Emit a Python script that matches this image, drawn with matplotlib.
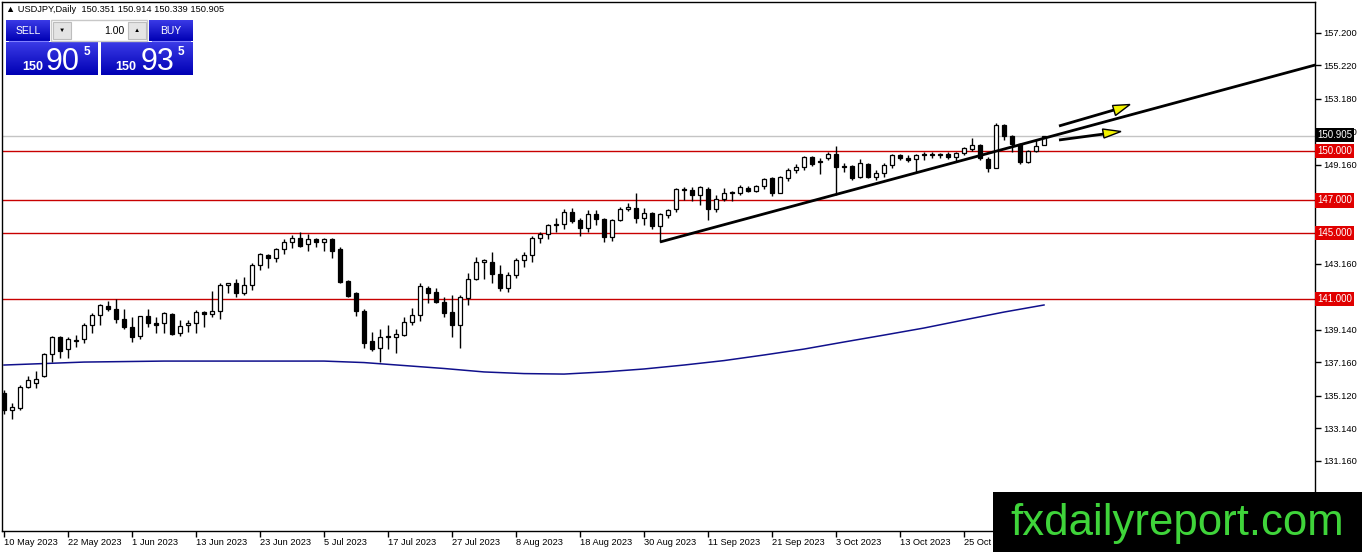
import numpy as np
import matplotlib
matplotlib.use("Agg")
import matplotlib.pyplot as plt
from matplotlib.patches import Rectangle, Polygon
from matplotlib.transforms import blended_transform_factory

plt.rcParams['font.family'] = ['Liberation Sans', 'DejaVu Sans']

# daily USDJPY candles, 10 May 2023 .. 8 Nov 2023
opens = [135.29, 134.24, 134.40, 135.65, 135.90, 136.30, 137.65, 138.70, 137.95, 138.45,
         138.60, 139.45, 140.05, 140.60, 140.40, 139.80, 139.30, 138.75, 139.95, 139.55,
         139.55, 140.10, 138.95, 139.40, 139.55, 140.20, 140.10, 140.25, 141.85, 141.95,
         141.35, 141.85, 143.05, 143.70, 143.50, 144.05, 144.45, 144.70, 144.35, 144.65,
         144.45, 144.65, 144.05, 142.10, 141.35, 140.30, 138.45, 138.00, 138.75, 138.70,
         138.80, 139.60, 140.05, 141.70, 141.40, 140.85, 140.20, 139.45, 141.05, 142.20,
         143.25, 143.25, 142.50, 141.70, 142.45, 143.35, 143.70, 144.70, 144.95, 145.55,
         145.55, 146.30, 145.80, 145.30, 146.15, 145.85, 144.75, 145.80, 146.45, 146.55,
         145.90, 146.25, 145.45, 146.10, 146.45, 147.70, 147.65, 147.30, 147.70, 146.50,
         147.10, 147.50, 147.45, 147.75, 147.55, 147.85, 148.35, 147.45, 148.35, 148.85,
         149.05, 149.65, 149.40, 149.55, 149.80, 149.10, 149.10, 148.40, 149.20, 148.40,
         148.65, 149.15, 149.75, 149.55, 149.50, 149.80, 149.80, 149.80, 149.80, 149.65,
         149.90, 150.10, 150.35, 149.50, 148.95, 151.60, 150.90, 150.45, 149.35, 150.00,
         150.351]
highs = [135.45, 134.67, 135.78, 136.32, 136.60, 137.70, 138.75, 138.75, 138.70, 138.80,
         139.55, 140.15, 140.70, 140.90, 141.00, 140.40, 139.90, 140.00, 140.40, 139.90,
         140.20, 140.15, 139.75, 139.75, 140.35, 140.25, 141.50, 141.95, 142.00, 142.20,
         142.35, 143.20, 143.80, 143.75, 144.10, 144.65, 144.90, 145.10, 144.95, 144.70,
         144.70, 144.70, 144.15, 142.15, 141.40, 140.40, 139.00, 139.20, 139.40, 139.15,
         139.90, 140.45, 141.95, 141.80, 141.70, 141.10, 141.25, 141.25, 142.60, 143.55,
         143.45, 143.85, 143.05, 142.65, 143.50, 143.85, 144.85, 145.05, 145.55, 145.90,
         146.45, 146.55, 145.90, 146.40, 146.40, 145.90, 145.85, 146.60, 146.85, 147.45,
         146.55, 146.30, 146.25, 146.50, 147.75, 147.80, 147.80, 147.85, 147.80, 147.35,
         147.75, 147.60, 147.95, 147.85, 147.95, 148.35, 148.40, 148.50, 148.95, 149.20,
         149.70, 149.70, 149.55, 149.95, 150.30, 149.30, 149.15, 149.50, 149.25, 148.85,
         149.25, 149.80, 149.80, 149.75, 149.80, 149.95, 149.95, 149.90, 149.95, 149.95,
         150.25, 150.80, 150.40, 149.65, 151.70, 151.65, 150.95, 150.50, 150.05, 150.65,
         150.914]
lows = [134.00, 133.69, 134.24, 135.60, 135.60, 136.25, 137.20, 137.40, 137.40, 138.10,
        138.35, 138.95, 139.45, 140.30, 139.55, 139.20, 138.40, 138.60, 139.30, 138.95,
        138.95, 138.80, 138.75, 139.00, 138.95, 139.30, 139.90, 139.80, 141.35, 141.10,
        141.25, 141.55, 142.75, 142.90, 143.25, 143.75, 144.10, 144.15, 143.90, 144.15,
        143.95, 143.50, 142.00, 141.15, 140.00, 138.05, 137.85, 137.20, 137.95, 137.70,
        138.75, 139.45, 139.65, 140.75, 140.75, 139.90, 138.70, 138.05, 140.65, 142.15,
        142.20, 141.95, 141.50, 141.45, 142.30, 142.95, 143.25, 144.40, 144.65, 145.05,
        145.25, 145.60, 144.85, 145.05, 145.50, 144.45, 144.50, 145.75, 146.35, 145.60,
        145.50, 145.25, 144.45, 145.90, 146.30, 147.00, 146.95, 146.70, 145.80, 146.30,
        146.95, 146.95, 147.30, 147.50, 147.50, 147.70, 147.25, 147.45, 148.20, 148.65,
        148.85, 149.10, 148.60, 149.45, 147.35, 148.70, 148.25, 148.35, 148.35, 148.25,
        148.45, 148.95, 149.45, 149.35, 148.70, 149.45, 149.60, 149.60, 149.50, 149.35,
        149.75, 150.00, 149.45, 148.70, 148.95, 150.65, 149.95, 149.20, 149.25, 149.95,
        150.339]
closes = [134.26, 134.42, 135.65, 136.08, 136.15, 137.65, 138.70, 137.85, 138.55, 138.50,
          139.45, 140.05, 140.65, 140.40, 139.80, 139.30, 138.70, 139.95, 139.55, 139.45,
          140.15, 138.90, 139.35, 139.55, 140.20, 140.10, 140.30, 141.85, 141.95, 141.35,
          141.85, 143.05, 143.75, 143.50, 144.05, 144.45, 144.70, 144.20, 144.65, 144.45,
          144.65, 143.95, 142.05, 141.20, 140.25, 138.35, 137.95, 138.70, 138.70, 138.85,
          139.60, 140.05, 141.80, 141.35, 140.80, 140.15, 139.40, 141.10, 142.20, 143.25,
          143.35, 142.50, 141.70, 142.45, 143.35, 143.70, 144.70, 144.95, 145.50, 145.50,
          146.30, 145.75, 145.30, 146.15, 145.85, 144.75, 145.80, 146.45, 146.60, 145.90,
          146.25, 145.45, 146.15, 146.40, 147.70, 147.65, 147.30, 147.80, 146.45, 147.10,
          147.45, 147.45, 147.80, 147.55, 147.85, 148.30, 147.45, 148.40, 148.85, 149.05,
          149.65, 149.20, 149.35, 149.80, 149.05, 149.05, 148.35, 149.25, 148.40, 148.65,
          149.15, 149.75, 149.55, 149.45, 149.75, 149.75, 149.75, 149.75, 149.65, 149.90,
          150.20, 150.35, 149.55, 148.95, 151.60, 150.90, 150.45, 149.35, 150.00, 150.30,
          150.905]

# moving average (blue line), sampled at bar numbers
ma_bars = [0, 10, 20, 30, 40, 45, 50, 55, 60, 65, 70, 75, 80, 85, 90, 95, 100, 105, 110, 115, 120, 125, 130]
ma_values = [136.99, 137.17, 137.23, 137.23, 137.23, 137.14, 136.96, 136.78, 136.57, 136.47, 136.44,
             136.57, 136.75, 136.99, 137.26, 137.60, 137.96, 138.39, 138.81, 139.24, 139.73, 140.21, 140.64]

# support / resistance levels and current price
levels = [150.0, 147.0, 145.0, 141.0]
level_labels = ['150.000', '147.000', '145.000', '141.000']
current_price = 150.905

# trend line (bar, price)
trend_bars = [82, 163.9]
trend_prices = [144.47, 155.23]

date_bars = [0, 8, 16, 24, 32, 40, 48, 56, 64, 72, 80, 88, 96, 104, 112, 120]
date_labels = ['10 May 2023', '22 May 2023', '1 Jun 2023', '13 Jun 2023', '23 Jun 2023',
               '5 Jul 2023', '17 Jul 2023', '27 Jul 2023', '8 Aug 2023', '18 Aug 2023',
               '30 Aug 2023', '11 Sep 2023', '21 Sep 2023', '3 Oct 2023', '13 Oct 2023',
               '25 Oct 2023']
price_ticks = [157.2, 155.22, 153.18, 151.2, 149.16, 147.0, 145.0, 143.16, 141.0,
               139.14, 137.16, 135.12, 133.14, 131.16]

W, H = 1362, 552
fig = plt.figure(figsize=(W / 100, H / 100), dpi=100)
fig.patch.set_facecolor('white')

ax = fig.add_axes([2 / W, (H - 531) / H, (1315 - 2) / W, (531 - 2) / H])
ax.set_xlim(-0.25, 163.875)
ax.set_ylim(126.90, 159.06)

o = np.array(opens)
h = np.array(highs)
l = np.array(lows)
c = np.array(closes)
idx = np.arange(len(o))
up = c >= o
bottoms = np.minimum(o, c)
heights = np.maximum(np.abs(c - o), 0.03)

# levels first, candles on top
for lv in levels:
    ax.axhline(lv, color='#c80000', lw=1, zorder=1)
ax.axhline(current_price, color='#c4c4c4', lw=1, zorder=1)

ax.plot(ma_bars, ma_values, color='#10108c', lw=1.1, zorder=2)

ax.vlines(idx, l, h, color='black', lw=1, zorder=3)
ax.bar(idx[up], heights[up], bottom=bottoms[up], width=0.62, facecolor='white',
       edgecolor='black', lw=0.9, zorder=4)
ax.bar(idx[~up], heights[~up], bottom=bottoms[~up], width=0.62, facecolor='black',
       edgecolor='black', lw=0.9, zorder=4)

ax.plot(trend_bars, trend_prices, color='black', lw=2, zorder=5, solid_capstyle='butt')

# axes look like MT4
for sp in ax.spines.values():
    sp.set_color('black')
    sp.set_linewidth(1)
ax.yaxis.tick_right()
ax.set_yticks(price_ticks)
# the level boxes sit on top of these, so leave their tick text out
ax.set_yticklabels(['' if p in levels else '%.3f' % p for p in price_ticks])
ax.set_xticks(date_bars)
ax.set_xticklabels(date_labels)
for lbl in ax.get_xticklabels():
    lbl.set_ha('left')
ax.tick_params(axis='both', direction='out', length=4, width=1, labelsize=6.7,
               colors='black', pad=2)
ax.tick_params(axis='x', pad=1)

tr = blended_transform_factory(ax.transAxes, ax.transData)
for lv, txt in zip(levels, level_labels):
    ax.text(1.0015, lv, txt, transform=tr, fontsize=7, color='white', va='center', ha='left',
            bbox=dict(boxstyle='square,pad=0.22', facecolor='#e00000', edgecolor='none'),
            zorder=10, clip_on=False)
ax.text(1.0015, current_price + 0.08, '%.3f' % current_price, transform=tr, fontsize=7,
        color='white', va='center', ha='left',
        bbox=dict(boxstyle='square,pad=0.22', facecolor='black', edgecolor='none'),
        zorder=10, clip_on=False)

# overlay in pixel coords for the panel, arrows and watermark
ov = fig.add_axes([0, 0, 1, 1], zorder=20)
ov.set_xlim(0, W)
ov.set_ylim(H, 0)
ov.axis('off')
ov.patch.set_alpha(0)

ov.text(6, 10, '\u25b2 USDJPY,Daily  150.351 150.914 150.339 150.905', fontsize=6.7,
        va='center', ha='left', color='black')

grad = np.linspace(0, 1, 50).reshape(-1, 1)
blue = matplotlib.colors.LinearSegmentedColormap.from_list('mt4', ['#3a3ae6', '#0000b4'])


def blue_box(x0, y0, x1, y1):
    ov.imshow(grad, cmap=blue, extent=[x0, x1, y1, y0], aspect='auto', zorder=21)


blue_box(6, 20, 50, 41)
blue_box(149, 20, 193, 41)
blue_box(6, 42, 98, 75)
blue_box(101, 42, 193, 75)
ov.plot([9, 48], [40.5, 40.5], color='#8080ff', lw=0.8, zorder=22)
ov.plot([152, 190], [40.5, 40.5], color='#8080ff', lw=0.8, zorder=22)
ov.text(28, 30.5, 'SELL', fontsize=7.5, color='white', ha='center', va='center', zorder=23)
ov.text(171, 30.5, 'BUY', fontsize=7.5, color='white', ha='center', va='center', zorder=23)

ov.add_patch(Rectangle((51, 20), 96, 21, facecolor='white', edgecolor='#c8c8c8', lw=1, zorder=21))
ov.add_patch(Rectangle((53, 22), 18, 17, facecolor='#e4e4e4', edgecolor='#bdbdbd', lw=0.8, zorder=22))
ov.add_patch(Rectangle((128, 22), 18, 17, facecolor='#e4e4e4', edgecolor='#bdbdbd', lw=0.8, zorder=22))
ov.text(62, 30.5, '\u25bc', fontsize=4.5, ha='center', va='center', zorder=23)
ov.text(137, 30, '\u25b2', fontsize=4.5, ha='center', va='center', zorder=23)
ov.text(124, 30.5, '1.00', fontsize=7.5, ha='right', va='center', zorder=23)

for x150, xbig, xsup, big in [(33, 63, 87, '90'), (126, 158, 181, '93')]:
    ov.text(x150, 70, '150', fontsize=9, color='white', ha='center', va='baseline',
            fontweight='bold', zorder=23)
    ov.text(xbig, 70, big, fontsize=22, color='white', ha='center', va='baseline', zorder=23)
    ov.text(xsup, 55, '5', fontsize=8.5, color='white', ha='center', va='baseline',
            fontweight='bold', zorder=23)

# the two yellow arrows
for shaft, head in [
        ([(1059, 126), (1114, 110)], [(1112.5, 105.5), (1130, 104.5), (1115.5, 115.5)]),
        ([(1059, 140), (1104, 134)], [(1102.5, 129), (1121, 131.5), (1104, 138)])]:
    ov.plot([shaft[0][0], shaft[1][0]], [shaft[0][1], shaft[1][1]], color='black', lw=2,
            solid_capstyle='butt', zorder=21)
    ov.add_patch(Polygon(head, closed=True, facecolor='#f2f200', edgecolor='black', lw=1, zorder=22))

# watermark
ov.add_patch(Rectangle((993, 492), W - 993, H - 492, facecolor='black', edgecolor='none', zorder=21))
ov.text(1177, 535, 'fxdailyreport.com', fontsize=31.5, color='#3fd43a', ha='center',
        va='baseline', family='Liberation Sans', zorder=22)

fig.savefig('out.png', dpi=100, facecolor='white')
